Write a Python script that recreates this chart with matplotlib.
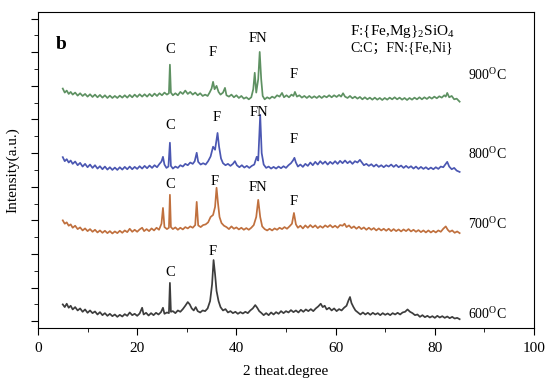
import matplotlib
matplotlib.use("Agg")
import matplotlib.pyplot as plt
from matplotlib.ticker import MultipleLocator, FixedLocator

plt.rcParams["font.family"] = ["Liberation Serif", "Noto Sans CJK SC"]
plt.rcParams["mathtext.fontset"] = "custom"
plt.rcParams["mathtext.rm"] = "Liberation Serif"

# 600 C pattern (2theta, intensity incl. stacking offset)
tt_600 = [5.0, 5.4, 5.8, 6.2, 6.6, 7.0, 7.5, 8.0, 8.5, 9.0, 9.5, 10.0, 10.5, 11.0, 11.5, 12.0,
          12.5, 13.0, 13.5, 14.0, 14.5, 15.0, 15.5, 16.0, 16.5, 17.0, 17.5, 18.0, 18.5, 19.0,
          19.5, 20.0, 20.5, 21.0, 21.3, 21.8, 22.3, 22.8, 23.3, 23.8, 24.3, 24.8, 25.2, 25.5,
          26.0, 26.4, 26.6, 26.8, 27.2, 27.7, 28.2, 28.7, 29.2, 29.7, 30.2, 30.6, 31.0, 31.4,
          31.8, 32.2, 32.7, 33.2, 33.7, 34.2, 34.7, 35.1, 35.4, 35.7, 36.0, 36.4, 36.8, 37.3,
          37.8, 38.3, 38.8, 39.3, 39.8, 40.3, 40.8, 41.3, 41.8, 42.3, 42.8, 43.3, 43.8, 44.2,
          44.6, 45.0, 45.5, 46.0, 46.5, 47.0, 47.5, 48.0, 48.5, 49.0, 49.5, 50.0, 50.5, 51.0,
          51.5, 52.0, 52.5, 53.0, 53.5, 54.0, 54.5, 55.0, 55.5, 56.0, 56.5, 57.0, 57.4, 57.8,
          58.2, 58.7, 59.2, 59.7, 60.2, 60.7, 61.2, 61.7, 62.2, 62.6, 62.9, 63.2, 63.6, 64.0,
          64.5, 65.0, 65.5, 66.0, 66.5, 67.0, 67.5, 68.0, 68.5, 69.0, 69.5, 70.0, 70.5, 71.0,
          71.5, 72.0, 72.5, 73.0, 73.5, 74.0, 74.5, 75.0, 75.5, 76.0, 76.5, 77.0, 77.5, 78.0,
          78.5, 79.0, 79.5, 80.0, 80.5, 81.0, 81.5, 82.0, 82.5, 83.0, 83.5, 84.0, 84.5, 85.0]
i_600 = [0.70, 0.62, 0.72, 0.60, 0.66, 0.55, 0.62, 0.52, 0.58, 0.48, 0.55, 0.45, 0.52, 0.44, 0.49, 0.40,
         0.47, 0.38, 0.44, 0.36, 0.42, 0.35, 0.40, 0.33, 0.39, 0.34, 0.41, 0.36, 0.46, 0.38,
         0.42, 0.36, 0.43, 0.60, 0.40, 0.45, 0.37, 0.44, 0.38, 0.45, 0.40, 0.47, 0.60, 0.42,
         0.46, 0.44, 1.34, 0.48, 0.50, 0.44, 0.52, 0.48, 0.56, 0.66, 0.77, 0.70, 0.58, 0.52,
         0.62, 0.50, 0.46, 0.52, 0.50, 0.58, 0.80, 1.30, 2.02, 1.60, 1.10, 0.80, 0.62, 0.52,
         0.56, 0.46, 0.50, 0.44, 0.48, 0.42, 0.47, 0.43, 0.48, 0.44, 0.52, 0.58, 0.68, 0.60,
         0.50, 0.45, 0.38, 0.44, 0.38, 0.46, 0.40, 0.47, 0.42, 0.50, 0.44, 0.50, 0.46, 0.53,
         0.47, 0.52, 0.46, 0.54, 0.48, 0.55, 0.50, 0.56, 0.50, 0.58, 0.64, 0.72, 0.62, 0.66,
         0.55, 0.60, 0.52, 0.58, 0.50, 0.56, 0.52, 0.60, 0.66, 0.82, 0.92, 0.74, 0.62, 0.52,
         0.46, 0.40, 0.46, 0.40, 0.45, 0.39, 0.45, 0.40, 0.44, 0.38, 0.44, 0.39, 0.43, 0.38,
         0.44, 0.40, 0.45, 0.40, 0.46, 0.48, 0.55, 0.48, 0.44, 0.38, 0.40, 0.33, 0.38, 0.32,
         0.36, 0.31, 0.35, 0.30, 0.36, 0.31, 0.35, 0.30, 0.34, 0.29, 0.33, 0.28, 0.30, 0.26]

# 700 C pattern
tt_700 = [5.0, 5.4, 5.8, 6.2, 6.6, 7.0, 7.5, 8.0, 8.5, 9.0, 9.5, 10.0, 10.5, 11.0, 11.5, 12.0,
          12.5, 13.0, 13.5, 14.0, 14.5, 15.0, 15.5, 16.0, 16.5, 17.0, 17.5, 18.0, 18.5, 19.0,
          19.5, 20.0, 20.5, 21.0, 21.4, 21.9, 22.4, 22.9, 23.4, 23.9, 24.4, 24.9, 25.2, 25.5,
          26.0, 26.4, 26.6, 26.8, 27.2, 27.7, 28.2, 28.7, 29.2, 29.7, 30.2, 30.7, 31.2, 31.7,
          32.0, 32.3, 32.8, 33.3, 33.8, 34.3, 34.8, 35.3, 35.7, 36.0, 36.3, 36.6, 37.0, 37.5,
          38.0, 38.5, 39.0, 39.5, 40.0, 40.5, 41.0, 41.5, 42.0, 42.5, 43.0, 43.5, 44.0, 44.4,
          44.8, 45.2, 45.7, 46.2, 46.7, 47.2, 47.7, 48.2, 48.7, 49.2, 49.7, 50.2, 50.7, 51.2,
          51.6, 52.0, 52.4, 52.9, 53.4, 53.9, 54.4, 54.9, 55.4, 55.9, 56.4, 56.9, 57.4, 57.9,
          58.4, 58.9, 59.4, 59.9, 60.4, 60.9, 61.4, 61.8, 62.2, 62.7, 63.2, 63.7, 64.2, 64.7,
          65.2, 65.7, 66.2, 66.7, 67.2, 67.7, 68.2, 68.7, 69.2, 69.7, 70.2, 70.7, 71.2, 71.7,
          72.2, 72.7, 73.2, 73.7, 74.2, 74.7, 75.2, 75.7, 76.2, 76.7, 77.2, 77.7, 78.2, 78.7,
          79.2, 79.7, 80.2, 80.7, 81.2, 81.7, 82.2, 82.6, 83.0, 83.5, 84.0, 84.5, 85.0]
i_700 = [3.20, 3.10, 3.14, 3.04, 3.08, 2.98, 3.04, 2.94, 2.99, 2.90, 2.96, 2.88, 2.94, 2.86, 2.92, 2.84,
         2.90, 2.83, 2.89, 2.82, 2.88, 2.81, 2.87, 2.82, 2.89, 2.83, 2.90, 2.85, 2.95, 2.86,
         2.92, 2.86, 2.93, 2.98, 2.88, 2.94, 2.88, 2.96, 2.90, 2.98, 2.92, 3.10, 3.57, 3.00,
         2.94, 2.98, 3.96, 3.00, 2.94, 2.99, 2.92, 2.98, 2.93, 3.00, 2.96, 3.02, 2.98, 3.06,
         3.75, 3.05, 3.00, 3.06, 3.08, 3.14, 3.30, 3.36, 3.60, 4.17, 3.70, 3.30, 3.12, 3.04,
         3.00, 2.94, 3.02, 2.95, 2.99, 2.93, 2.98, 2.92, 2.97, 2.92, 2.98, 3.06, 3.30, 3.81,
         3.30, 3.02, 2.94, 2.90, 2.95, 2.90, 2.96, 2.92, 2.98, 2.94, 3.00, 2.95, 3.02, 3.10,
         3.42, 3.08, 2.98, 3.04, 2.96, 3.05, 2.98, 3.06, 2.99, 3.05, 2.97, 3.03, 2.98, 3.05,
         3.00, 3.06, 2.99, 3.04, 2.98, 3.06, 3.04, 3.10, 3.00, 3.05, 2.97, 3.02, 2.95, 3.01,
         2.94, 2.99, 2.92, 2.98, 2.92, 2.97, 2.90, 2.96, 2.90, 2.95, 2.89, 2.95, 2.88, 2.94,
         2.88, 2.93, 2.87, 2.93, 2.88, 2.94, 2.87, 2.92, 2.86, 2.91, 2.85, 2.90, 2.84, 2.90,
         2.84, 2.89, 2.84, 2.90, 2.86, 2.95, 3.02, 2.92, 2.86, 2.90, 2.83, 2.87, 2.82]

# 800 C pattern
tt_800 = [5.0, 5.4, 5.8, 6.2, 6.6, 7.0, 7.5, 8.0, 8.5, 9.0, 9.5, 10.0, 10.5, 11.0, 11.5, 12.0,
          12.5, 13.0, 13.5, 14.0, 14.5, 15.0, 15.5, 16.0, 16.5, 17.0, 17.5, 18.0, 18.5, 19.0,
          19.5, 20.0, 20.5, 21.0, 21.5, 22.0, 22.5, 23.0, 23.5, 24.0, 24.5, 24.9, 25.2, 25.5,
          25.9, 26.3, 26.6, 26.8, 27.2, 27.7, 28.2, 28.7, 29.2, 29.7, 30.2, 30.7, 31.2, 31.6,
          32.0, 32.3, 32.8, 33.3, 33.8, 34.3, 34.8, 35.3, 35.7, 36.2, 36.5, 36.9, 37.3, 37.8,
          38.3, 38.8, 39.3, 39.7, 40.1, 40.6, 41.1, 41.6, 42.1, 42.6, 43.1, 43.6, 44.1, 44.4,
          44.8, 45.1, 45.5, 46.0, 46.5, 47.0, 47.5, 48.0, 48.5, 49.0, 49.5, 50.0, 50.5, 51.0,
          51.4, 51.7, 52.0, 52.4, 52.9, 53.4, 53.9, 54.4, 54.9, 55.4, 55.9, 56.4, 56.9, 57.4,
          57.9, 58.4, 58.9, 59.4, 59.9, 60.4, 60.9, 61.4, 61.9, 62.4, 62.9, 63.4, 63.9, 64.4,
          64.9, 65.3, 65.7, 66.2, 66.7, 67.2, 67.7, 68.2, 68.7, 69.2, 69.7, 70.2, 70.7, 71.2,
          71.7, 72.2, 72.7, 73.2, 73.7, 74.2, 74.7, 75.2, 75.7, 76.2, 76.7, 77.2, 77.7, 78.2,
          78.7, 79.2, 79.7, 80.2, 80.7, 81.2, 81.7, 82.1, 82.5, 82.9, 83.4, 83.9, 84.4, 85.0]
i_800 = [5.08, 4.96, 5.02, 4.92, 4.98, 4.88, 4.95, 4.84, 4.91, 4.80, 4.88, 4.78, 4.86, 4.76, 4.84, 4.74,
         4.81, 4.72, 4.80, 4.71, 4.78, 4.70, 4.77, 4.70, 4.78, 4.71, 4.79, 4.72, 4.80, 4.72,
         4.79, 4.73, 4.81, 4.74, 4.82, 4.75, 4.83, 4.76, 4.84, 4.78, 4.88, 4.95, 5.09, 4.86,
         4.76, 4.80, 5.51, 4.82, 4.74, 4.80, 4.76, 4.84, 4.80, 4.88, 4.84, 4.92, 4.88, 4.96,
         5.21, 4.94, 4.86, 4.90, 4.86, 4.96, 5.10, 5.39, 5.30, 5.80, 5.40, 5.04, 4.90, 4.84,
         4.88, 4.82, 4.88, 4.96, 4.84, 4.78, 4.84, 4.77, 4.82, 4.76, 4.82, 4.86, 5.09, 4.98,
         6.34, 5.20, 4.86, 4.76, 4.80, 4.74, 4.79, 4.74, 4.80, 4.75, 4.81, 4.76, 4.84, 4.90,
         4.98, 5.06, 4.92, 4.80, 4.86, 4.79, 4.88, 4.82, 4.92, 4.84, 4.94, 4.86, 4.96, 4.88,
         4.95, 4.86, 4.94, 4.88, 4.96, 4.88, 4.97, 4.90, 4.98, 4.90, 4.96, 4.88, 4.96, 4.92,
         5.00, 4.92, 4.84, 4.88, 4.82, 4.87, 4.80, 4.86, 4.79, 4.84, 4.78, 4.84, 4.80, 4.86,
         4.79, 4.85, 4.78, 4.83, 4.76, 4.82, 4.76, 4.81, 4.74, 4.80, 4.73, 4.79, 4.73, 4.78,
         4.72, 4.77, 4.72, 4.78, 4.73, 4.80, 4.78, 4.86, 4.94, 4.80, 4.72, 4.76, 4.68, 4.64]

# 900 C pattern
tt_900 = [5.0, 5.4, 5.8, 6.2, 6.6, 7.0, 7.5, 8.0, 8.5, 9.0, 9.5, 10.0, 10.5, 11.0, 11.5, 12.0,
          12.5, 13.0, 13.5, 14.0, 14.5, 15.0, 15.5, 16.0, 16.5, 17.0, 17.5, 18.0, 18.5, 19.0,
          19.5, 20.0, 20.5, 21.0, 21.5, 22.0, 22.5, 23.0, 23.5, 24.0, 24.5, 25.0, 25.5, 26.0,
          26.4, 26.6, 26.8, 27.2, 27.7, 28.2, 28.7, 29.2, 29.7, 30.2, 30.7, 31.2, 31.7, 32.2,
          32.7, 33.2, 33.7, 34.2, 34.6, 35.0, 35.3, 35.6, 36.0, 36.4, 36.8, 37.3, 37.7, 38.0,
          38.5, 39.0, 39.5, 40.0, 40.5, 41.0, 41.5, 42.0, 42.5, 43.0, 43.4, 43.7, 44.0, 44.4,
          44.7, 45.0, 45.3, 45.7, 46.2, 46.7, 47.2, 47.7, 48.2, 48.7, 49.2, 49.6, 50.1, 50.6,
          51.1, 51.5, 51.8, 52.2, 52.7, 53.2, 53.7, 54.2, 54.7, 55.2, 55.7, 56.2, 56.7, 57.2,
          57.7, 58.2, 58.7, 59.2, 59.7, 60.2, 60.7, 61.1, 61.5, 61.9, 62.4, 62.9, 63.4, 63.9,
          64.4, 64.9, 65.4, 65.9, 66.4, 66.9, 67.4, 67.9, 68.4, 68.9, 69.4, 69.9, 70.4, 70.9,
          71.4, 71.9, 72.4, 72.9, 73.4, 73.9, 74.4, 74.9, 75.4, 75.9, 76.4, 76.9, 77.4, 77.9,
          78.4, 78.9, 79.4, 79.9, 80.4, 80.9, 81.4, 81.9, 82.2, 82.5, 82.9, 83.4, 83.9, 84.4, 85.0]
i_900 = [7.12, 7.00, 7.06, 6.96, 7.02, 6.94, 7.00, 6.91, 6.98, 6.90, 6.96, 6.88, 6.95, 6.87, 6.94, 6.86,
         6.93, 6.85, 6.92, 6.84, 6.91, 6.84, 6.90, 6.84, 6.91, 6.85, 6.92, 6.85, 6.93, 6.86,
         6.94, 6.87, 6.95, 6.88, 6.95, 6.88, 6.96, 6.89, 6.97, 6.90, 6.98, 6.92, 7.00, 6.94,
         6.98, 7.83, 7.00, 6.92, 6.98, 6.92, 7.02, 6.96, 7.06, 6.96, 7.02, 6.94, 7.00, 6.92,
         6.98, 6.90, 6.94, 6.90, 7.00, 7.12, 7.32, 7.10, 7.20, 7.02, 6.94, 7.00, 7.14, 6.92,
         6.88, 6.94, 6.86, 6.92, 6.84, 6.90, 6.82, 6.86, 6.80, 6.86, 7.10, 7.59, 7.00, 7.40,
         8.21, 7.40, 6.90, 6.80, 6.86, 6.82, 6.88, 6.84, 6.92, 6.88, 6.99, 6.86, 6.92, 6.86,
         6.94, 6.90, 7.02, 6.88, 6.92, 6.85, 6.90, 6.84, 6.90, 6.84, 6.89, 6.84, 6.90, 6.84,
         6.90, 6.86, 6.92, 6.86, 6.92, 6.87, 6.93, 6.88, 6.98, 6.88, 6.84, 6.90, 6.83, 6.88,
         6.82, 6.87, 6.80, 6.86, 6.80, 6.85, 6.79, 6.85, 6.79, 6.84, 6.78, 6.84, 6.79, 6.85,
         6.80, 6.86, 6.80, 6.85, 6.79, 6.84, 6.78, 6.84, 6.79, 6.85, 6.80, 6.86, 6.80, 6.86,
         6.81, 6.87, 6.82, 6.88, 6.83, 6.89, 6.85, 6.92, 6.88, 6.99, 6.86, 6.90, 6.80, 6.82, 6.73]

temps = ["600", "700", "800", "900"]
colors = ["#3d3d3d", "#c0703e", "#4b57b2", "#5e9162"]
patterns = [(tt_600, i_600), (tt_700, i_700), (tt_800, i_800), (tt_900, i_900)]
temp_label_y = [0.42, 3.10, 5.18, 7.53]

# peak annotations: phase, 2theta, height of label
peak_names = ["C", "F", "C", "F", "FN", "F", "C", "F", "FN", "F", "C", "F", "FN", "F"]
peak_tt = [26.6, 35.3, 26.6, 35.6, 44.4, 51.5, 26.6, 36.0, 44.6, 51.5, 26.6, 35.3, 44.4, 51.5]
peak_y = [1.64, 2.26, 4.26, 4.35, 4.17, 3.75, 6.01, 6.25, 6.40, 5.60, 8.27, 8.18, 8.60, 7.53]

fig = plt.figure(figsize=(5.5, 3.84), dpi=100)
ax = fig.add_axes([0.069, 0.146, 0.902, 0.823])

for (tt, inten), c in zip(patterns, colors):
    ax.plot(tt, inten, color=c, lw=1.25)

for name, x, y in zip(peak_names, peak_tt, peak_y):
    ax.text(x, y, name, ha="center", va="center", fontsize=10.5)

for t, y in zip(temps, temp_label_y):
    ax.text(90.7, y, t + r"$^\mathregular{O}$C", ha="center", va="center", fontsize=10)

ax.text(73.4, 8.81, r"F:{Fe,Mg}$_\mathregular{2}$SiO$_\mathregular{4}$", ha="center", va="center", fontsize=11)
ax.text(73.4, 8.33, "C:C；FN:{Fe,Ni}", ha="center", va="center", fontsize=10)
ax.text(4.6, 8.42, "b", ha="center", va="center", fontsize=14, fontweight="bold")

ax.set_xlim(0, 100)
ax.set_ylim(0, 9.4)
ax.xaxis.set_major_locator(MultipleLocator(20))
ax.xaxis.set_minor_locator(MultipleLocator(10))
ax.yaxis.set_major_locator(FixedLocator([0.2 + k for k in range(10)]))
ax.yaxis.set_minor_locator(FixedLocator([0.7 + k for k in range(9)]))
ax.set_yticklabels([])
ax.tick_params(axis="x", which="major", direction="out", length=5, labelsize=11, pad=5)
ax.tick_params(axis="x", which="minor", direction="out", length=3)
ax.tick_params(axis="y", which="major", direction="out", length=5)
ax.tick_params(axis="y", which="minor", direction="out", length=3)
ax.set_xlabel("2 theat.degree", fontsize=11, labelpad=7)
ax.set_ylabel("Intensity(a.u.)", fontsize=11, labelpad=5)

fig.savefig("out.png", dpi=100)
